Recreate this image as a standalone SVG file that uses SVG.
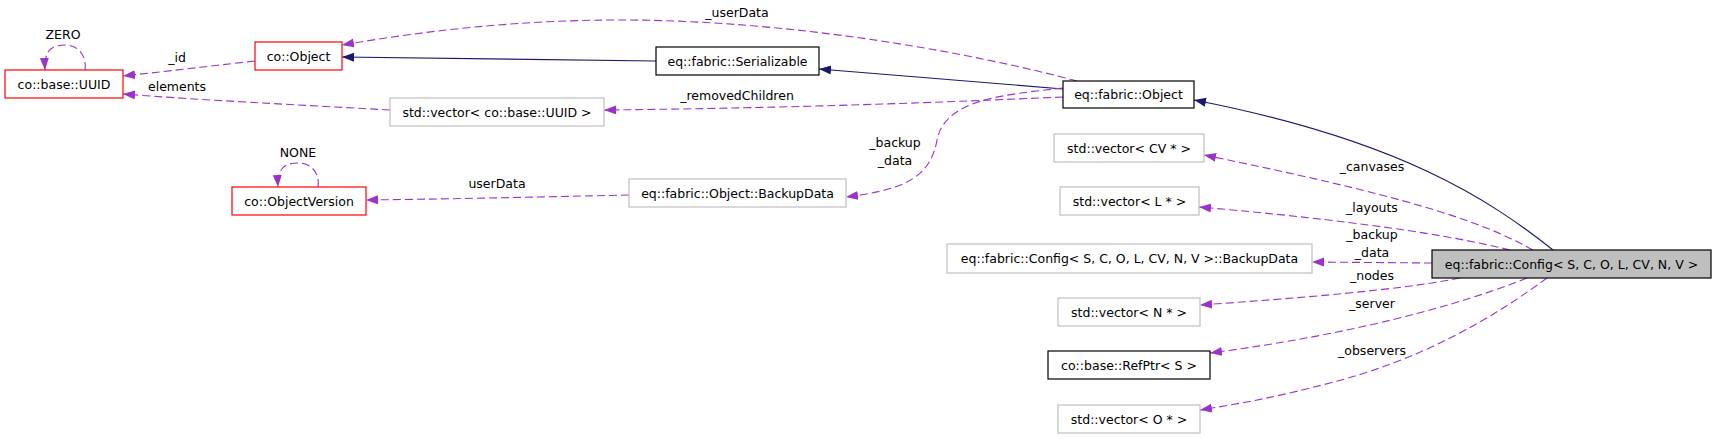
<svg xmlns="http://www.w3.org/2000/svg" width="1717" height="439" viewBox="0 0 1717 439">
<style>
  .bg{fill:#ffffff}
  .n rect{fill:#ffffff;stroke-width:1.2}
  .red rect{stroke:#ff0000}
  .grey rect{stroke:#bfbfbf}
  .blk rect{stroke:#000000}
  .main rect{fill:#bfbfbf;stroke:#000000}
  text{font-family:"DejaVu Sans","Liberation Sans",sans-serif;font-size:12.5px;fill:#000000;text-anchor:middle}
  .e path{fill:none;stroke-width:1.1}
  .dash{stroke:#9a32cd;stroke-dasharray:8,4}
  .inh{stroke:#191970}
</style>
<defs>
  <marker id="ap" markerUnits="userSpaceOnUse" markerWidth="13" markerHeight="10" refX="12" refY="4.5" orient="auto">
    <path d="M0,0 L12,4.5 L0,9 z" fill="#9a32cd"/>
  </marker>
  <marker id="an" markerUnits="userSpaceOnUse" markerWidth="13" markerHeight="10" refX="12" refY="4.5" orient="auto">
    <path d="M0,0 L12,4.5 L0,9 z" fill="#191970"/>
  </marker>
</defs>
<rect class="bg" x="0" y="0" width="1717" height="439"/>

<g id="connectors" class="e">
  <path class="inh" d="M656,61 L342,57" marker-end="url(#an)"/>
  <path class="inh" d="M1063,89 L819,69" marker-end="url(#an)"/>
  <path class="inh" d="M1553,250 C1490,200 1400,140 1194,100" marker-end="url(#an)"/>
  <path class="dash" d="M1077,81 C980,55 800,20 620,20 C520,20 430,30 342,45" marker-end="url(#ap)"/>
  <path class="dash" d="M1063,97 C950,102 800,108 604,110" marker-end="url(#ap)"/>
  <path class="dash" d="M1063,88 C1000,95 945,100 937,140 C930,180 900,190 846,197" marker-end="url(#ap)"/>
  <path class="dash" d="M390,110 C300,105 200,100 123,94" marker-end="url(#ap)"/>
  <path class="dash" d="M255,61 C210,66 170,71 123,76" marker-end="url(#ap)"/>
  <path class="dash" d="M85,70 C87,58 80,45 65,45 C50,45 44,52 45,70" marker-end="url(#ap)"/>
  <path class="dash" d="M318,187 C320,175 313,163 298,163 C283,163 277,170 278,187" marker-end="url(#ap)"/>
  <path class="dash" d="M629,195 C540,197 450,199 366,200" marker-end="url(#ap)"/>
  <path class="dash" d="M1533,250 C1480,220 1400,195 1204,155" marker-end="url(#ap)"/>
  <path class="dash" d="M1510,250 C1450,235 1350,220 1199,207" marker-end="url(#ap)"/>
  <path class="dash" d="M1432,263 L1312,262" marker-end="url(#ap)"/>
  <path class="dash" d="M1460,278 C1400,290 1300,298 1200,305" marker-end="url(#ap)"/>
  <path class="dash" d="M1527,278 C1460,305 1350,335 1210,353" marker-end="url(#ap)"/>
  <path class="dash" d="M1547,278 C1490,320 1420,360 1330,383 C1280,396 1250,402 1200,410" marker-end="url(#ap)"/>
</g>

<g id="labels">
  <text x="63" y="39">ZERO</text>
  <text x="298" y="157">NONE</text>
  <text x="177" y="62">_id</text>
  <text x="177" y="91">elements</text>
  <text x="737" y="17">_userData</text>
  <text x="737" y="100">_removedChildren</text>
  <text x="497" y="188">userData</text>
  <text x="895" y="147">_backup</text>
  <text x="895" y="165">_data</text>
  <text x="1372" y="171">_canvases</text>
  <text x="1372" y="212">_layouts</text>
  <text x="1372" y="239">_backup</text>
  <text x="1372" y="257">_data</text>
  <text x="1372" y="280">_nodes</text>
  <text x="1372" y="308">_server</text>
  <text x="1372" y="355">_observers</text>
</g>

<g id="uuid" class="n red"><rect x="5" y="70" width="118" height="28"/><text x="64" y="88.5">co::base::UUID</text></g>
<g id="coobject" class="n red"><rect x="255" y="42" width="87" height="28"/><text x="298.5" y="60.5">co::Object</text></g>
<g id="vecuuid" class="n grey"><rect x="390" y="98" width="214" height="28"/><text x="497" y="116.5">std::vector&lt; co::base::UUID &gt;</text></g>
<g id="objversion" class="n red"><rect x="232" y="187" width="134" height="28"/><text x="299" y="205.5">co::ObjectVersion</text></g>
<g id="serializable" class="n blk"><rect x="656" y="47" width="163" height="28"/><text x="737.5" y="65.5">eq::fabric::Serializable</text></g>
<g id="backupdata" class="n grey"><rect x="629" y="179" width="217" height="28"/><text x="737.5" y="197.5">eq::fabric::Object::BackupData</text></g>
<g id="fabobject" class="n blk"><rect x="1063" y="81" width="131" height="27"/><text x="1128.5" y="99">eq::fabric::Object</text></g>
<g id="veccv" class="n grey"><rect x="1054" y="134" width="150" height="28"/><text x="1129" y="152.5">std::vector&lt; CV * &gt;</text></g>
<g id="vecl" class="n grey"><rect x="1060" y="187" width="139" height="28"/><text x="1129.5" y="205.5">std::vector&lt; L * &gt;</text></g>
<g id="cfgbackup" class="n grey"><rect x="947" y="244" width="365" height="29"/><text x="1129.5" y="263">eq::fabric::Config&lt; S, C, O, L, CV, N, V &gt;::BackupData</text></g>
<g id="vecn" class="n grey"><rect x="1058" y="298" width="142" height="28"/><text x="1129" y="316.5">std::vector&lt; N * &gt;</text></g>
<g id="refptr" class="n blk"><rect x="1048" y="351" width="162" height="28"/><text x="1129" y="369.5">co::base::RefPtr&lt; S &gt;</text></g>
<g id="veco" class="n grey"><rect x="1058" y="405" width="142" height="28"/><text x="1129" y="423.5">std::vector&lt; O * &gt;</text></g>
<g id="config" class="n main"><rect x="1432" y="250" width="279" height="28"/><text x="1571.5" y="268.5">eq::fabric::Config&lt; S, C, O, L, CV, N, V &gt;</text></g>
</svg>
